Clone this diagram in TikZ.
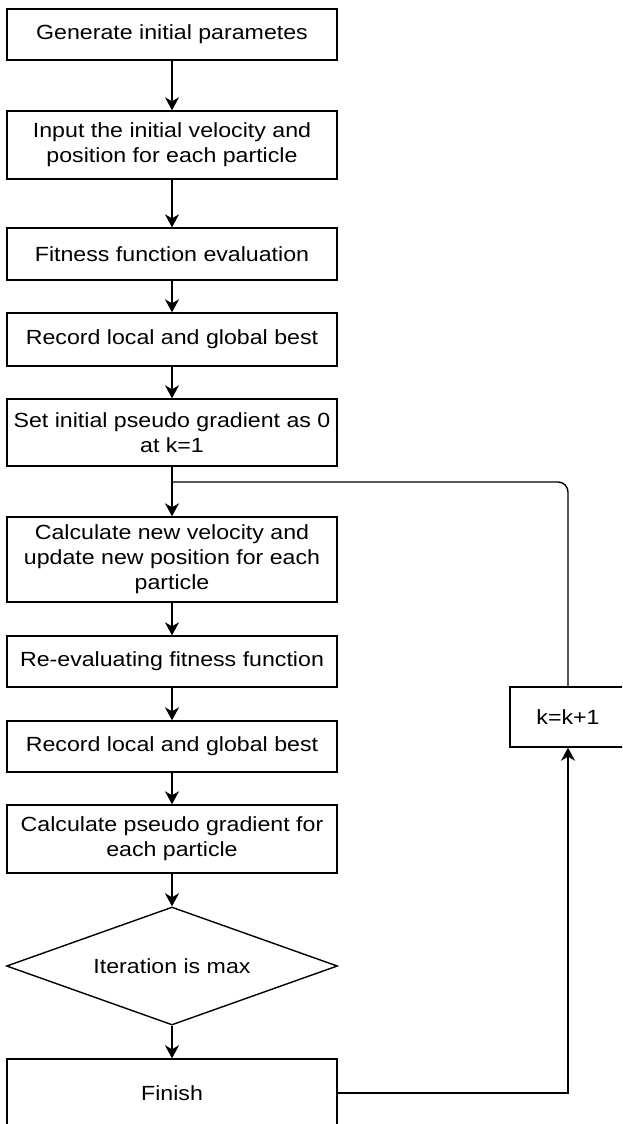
\documentclass[tikz,border=0pt]{standalone}
\usepackage{fontspec}
\setmainfont[FakeStretch=1.13]{Liberation Sans}
\usetikzlibrary{arrows.meta,shapes.geometric}

\tikzset{
	blocco/.style={draw, line width=1.4pt, minimum width=330pt, minimum height=#1,
		inner sep=0pt, align=center, font=\fontsize{20.5}{25}\selectfont},
	rombo/.style={draw, diamond, line width=1.4pt, aspect=2.8, minimum width=331pt,
		minimum height=118pt, inner sep=0pt, font=\fontsize{20.5}{25}\selectfont},
	freccia/.style={->, line width=1.4pt}
}

\begin{document}
\begin{tikzpicture}[>={Stealth[length=13pt,width=14pt,inset=4pt]}, x=1pt, y=-1pt]
	% Definizioni per la posizione delle colonne
	\def\xc{172}
	\def\xk{568}
	\def\yk{482}
	
	\clip (0,0) rectangle (622,1124);
	
	% --- Blocchi ---
	\node[blocco=51pt] (genera) at (\xc, 34.5) {Generate initial parametes};
	\node[blocco=68pt] (input) at (\xc, 145) {Input the initial velocity and\\position for each particle};
	\node[blocco=52pt] (fitness) at (\xc, 254) {Fitness function evaluation};
	\node[blocco=53pt] (best1) at (\xc, 339.5) {Record local and global best};
	\node[blocco=67pt] (grad0) at (\xc, 432.5) {Set initial pseudo gradient as 0\\at k=1};
	\node[blocco=85pt] (calcola) at (\xc, 559.5) {Calculate new velocity and\\update new position for each\\particle};
	\node[blocco=51pt] (rivaluta) at (\xc, 661.5) {Re-evaluating fitness function};
	\node[blocco=51pt] (best2) at (\xc, 746.5) {Record local and global best};
	\node[blocco=68pt] (gradiente) at (\xc, 839) {Calculate pseudo gradient for\\each particle};
	\node[rombo] (iter) at (\xc, 966) {Iteration is max};
	\node[blocco=68pt] (fine) at (\xc, 1093) {Finish};
	
	% Blocco di incremento (a destra)
	\node[blocco=60pt, minimum width=116pt] (incr) at (\xk, 717) {k=k+1};
	
	% --- Frecce ---
	\foreach \a/\b in {genera/input, input/fitness, fitness/best1, best1/grad0,
		grad0/calcola, calcola/rivaluta, rivaluta/best2, best2/gradiente,
		gradiente/iter, iter/fine}
		\draw[freccia] (\a) -- (\b);
	
	% --- Ciclo ---
	\coordinate (giunz) at (\xc, \yk);
	\draw[freccia] (fine.east) -| (incr.south);
	\draw[line width=1.4pt, rounded corners=10pt] (incr.north) |- (giunz);
\end{tikzpicture}
\end{document}
